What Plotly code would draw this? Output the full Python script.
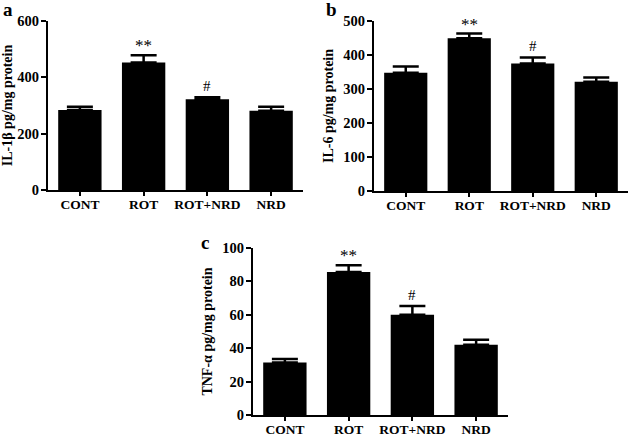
import plotly.graph_objects as go

categories = ["CONT", "ROT", "ROT+NRD", "NRD"]
il1b_mean = [284, 453, 322, 281]
il1b_err = [12, 25, 7, 15]
il6_mean = [348, 449, 375, 321]
il6_err = [18, 14, 18, 13]
tnf_mean = [31.5, 85.6, 60, 42]
tnf_err = [2.0, 4.0, 5.3, 3.0]
sig_labels = ["", "**", "#", ""]

W, H = 635, 438
FONT = "Liberation Serif"

def px_x(a, b):
    return [a / W, b / W]

def px_y(top, bottom):
    return [1 - bottom / H, 1 - top / H]

panels = [
    dict(mean=il1b_mean, err=il1b_err, title="IL-1β pg/mg protein", rng=[0, 600], dtick=200,
         xd=px_x(48, 303), yd=px_y(21, 190), letter="a", lpos=(8, 10)),
    dict(mean=il6_mean, err=il6_err, title="IL-6 pg/mg protein", rng=[0, 500], dtick=100,
         xd=px_x(374, 628), yd=px_y(21, 191), letter="b", lpos=(331, 10)),
    dict(mean=tnf_mean, err=tnf_err, title="TNF-α pg/mg protein", rng=[0, 100], dtick=20,
         xd=px_x(253, 508), yd=px_y(248, 415), letter="c", lpos=(205, 242)),
]

fig = go.Figure()
annotations = []
for i, p in enumerate(panels, start=1):
    xa = "x" if i == 1 else f"x{i}"
    ya = "y" if i == 1 else f"y{i}"
    fig.add_trace(go.Bar(
        x=categories, y=p["mean"], xaxis=xa, yaxis=ya,
        marker=dict(color="black", line=dict(color="black", width=0)),
        width=0.68,
        error_y=dict(type="data", array=p["err"], arrayminus=[0] * 4, symmetric=False,
                     color="black", thickness=2.5, width=13),
        showlegend=False,
    ))
    for c, m, e, s in zip(categories, p["mean"], p["err"], sig_labels):
        if s:
            annotations.append(dict(
                x=c, y=m + e, xref=xa, yref=ya, text=s, showarrow=False,
                yanchor="bottom", yshift=1 if s == "#" else -2,
                font=dict(family=FONT, size=15 if s == "#" else 17, color="#000000"),
            ))
    annotations.append(dict(
        x=p["lpos"][0] / W, y=1 - p["lpos"][1] / H, xref="paper", yref="paper",
        text=f"<b>{p['letter']}</b>", showarrow=False, xanchor="center", yanchor="middle",
        font=dict(family=FONT, size=19, color="black"),
    ))
    axkey = "xaxis" if i == 1 else f"xaxis{i}"
    aykey = "yaxis" if i == 1 else f"yaxis{i}"
    fig.update_layout(**{
        axkey: dict(domain=p["xd"], anchor=ya, range=[-0.5, 3.5], showline=True, linecolor="black",
                    linewidth=2, ticks="outside", ticklen=4, tickwidth=2, tickcolor="black",
                    showgrid=False, zeroline=False, fixedrange=True, automargin=False,
                    ticklabelstandoff=-3,
                    tickfont=dict(family=FONT, size=13.5, color="black", weight="bold")),
        aykey: dict(domain=p["yd"], anchor=xa, range=p["rng"], dtick=p["dtick"], showline=True,
                    linecolor="black", linewidth=2, ticks="outside", ticklen=5, tickwidth=2,
                    tickcolor="black", showgrid=False, zeroline=False, fixedrange=True,
                    automargin=False, ticklabelstandoff=-1,
                    title=dict(text=p["title"], standoff=6,
                               font=dict(family=FONT, size=14, color="black", weight="bold")),
                    tickfont=dict(family=FONT, size=14.5, color="black", weight="bold")),
    })

fig.update_layout(
    template="none",
    width=W, height=H, margin=dict(l=0, r=0, t=0, b=0, autoexpand=False),
    plot_bgcolor="white", paper_bgcolor="white",
    bargap=0.3, annotations=annotations,
    font=dict(family=FONT, color="black"),
)
fig.write_html("out.html", config={"displayModeBar": False},
               post_script="document.body.style.margin='0';document.body.style.overflow='hidden';")
